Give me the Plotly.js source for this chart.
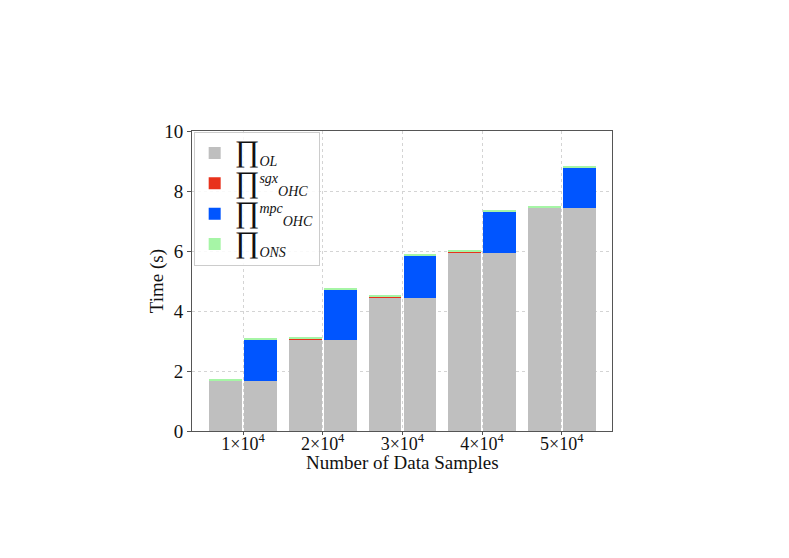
<!DOCTYPE html>
<html><head><meta charset="utf-8">
<script src="https://cdn.plot.ly/plotly-3.0.1.min.js"></script>
<style>body{margin:0;background:#fff}#c{width:789px;height:558px}</style>
</head><body><div id="c"></div>
<script>
const categories = [1, 2, 3, 4, 5];
const tickLabels = ['1×10<sup>4</sup>', '2×10<sup>4</sup>', '3×10<sup>4</sup>', '4×10<sup>4</sup>', '5×10<sup>4</sup>'];
const olTime   = [1.66, 3.04, 4.45, 5.94, 7.42];
const sgxTime  = [0.02, 0.02, 0.02, 0.02, 0.02];
const mpcTime  = [1.38, 1.67, 1.39, 1.35, 1.36];
const onsTime  = [0.05, 0.06, 0.06, 0.07, 0.07];

const off = 0.22, w = 0.41;
const leftX = categories.map(c => c - off);
const rightX = categories.map(c => c + off);
const sm = t => '<span style="font-size:14px"><i>' + t + '</i></span>';
const pi = s => '<span style="font-size:30px">∏</span>' + s;
const common = {type: 'bar', width: w, marker: {line: {width: 0}}};
const traces = [
  Object.assign({}, common, {x: leftX, y: olTime, name: pi('<sub>' + sm('OL') + '</sub>'), legendgroup: 'ol', marker: {color: '#bfbfbf'}}),
  Object.assign({}, common, {x: rightX, y: olTime, name: 'OL', legendgroup: 'ol', showlegend: false, marker: {color: '#bfbfbf'}}),
  Object.assign({}, common, {x: leftX, y: sgxTime, name: pi('<sup>' + sm('sgx') + '</sup><sub>' + sm('OHC') + '</sub>'), marker: {color: '#e8321c'}}),
  Object.assign({}, common, {x: rightX, y: mpcTime, name: pi('<sup>' + sm('mpc') + '</sup><sub>' + sm('OHC') + '</sub>'), marker: {color: '#0055ff'}}),
  Object.assign({}, common, {x: leftX, y: onsTime, name: pi('<sub>' + sm('ONS') + '</sub>'), legendgroup: 'ons', marker: {color: '#a6f5a6'}}),
  Object.assign({}, common, {x: rightX, y: onsTime, name: 'ONS', legendgroup: 'ons', showlegend: false, marker: {color: '#a6f5a6'}})
];
const font = {family: '"Liberation Serif", "DejaVu Serif", serif', color: '#111'};
const layout = {
  width: 789, height: 558,
  margin: {l: 192, r: 177, t: 131, b: 127},
  barmode: 'stack', bargap: 0,
  paper_bgcolor: '#fff', plot_bgcolor: '#fff',
  font: Object.assign({size: 18}, font),
  xaxis: {
    range: [0.36, 5.63], tickvals: categories, ticktext: tickLabels,
    showgrid: true, gridcolor: '#d4d4d4', griddash: 'dot', gridwidth: 1,
    showline: true, mirror: true, linecolor: '#555', linewidth: 1,
    ticks: 'outside', ticklen: 3, tickcolor: '#555', zeroline: false,
    ticklabelstandoff: -7,
    tickfont: Object.assign({size: 18}, font),
    automargin: false
  },
  yaxis: {
    range: [0, 10], dtick: 2,
    showgrid: true, gridcolor: '#d4d4d4', griddash: 'dot', gridwidth: 1,
    showline: true, mirror: true, linecolor: '#555', linewidth: 1,
    ticks: 'outside', ticklen: 4, tickcolor: '#555', zeroline: false,
    tickfont: Object.assign({size: 19}, font),
    automargin: false
  },
  annotations: [
    {text: 'Number of Data Samples', xref: 'paper', yref: 'paper', x: 0.5, y: -0.104,
     xanchor: 'center', yanchor: 'middle', showarrow: false, font: Object.assign({size: 19}, font)},
    {text: 'Time (s)', xref: 'paper', yref: 'paper', x: -0.083, y: 0.5, textangle: -90,
     xanchor: 'center', yanchor: 'middle', showarrow: false, font: Object.assign({size: 19}, font)}
  ],
  legend: {
    x: 0.004, y: 0.997, xanchor: 'left', yanchor: 'top',
    bgcolor: 'rgba(255,255,255,0.85)', bordercolor: '#cccccc', borderwidth: 1,
    font: Object.assign({size: 21}, font), itemwidth: 30, tracegroupgap: 0,
    traceorder: 'normal'
  },
  showlegend: true
};
Plotly.newPlot('c', traces, layout, {displayModeBar: false, staticPlot: true});
</script>
</body></html>
